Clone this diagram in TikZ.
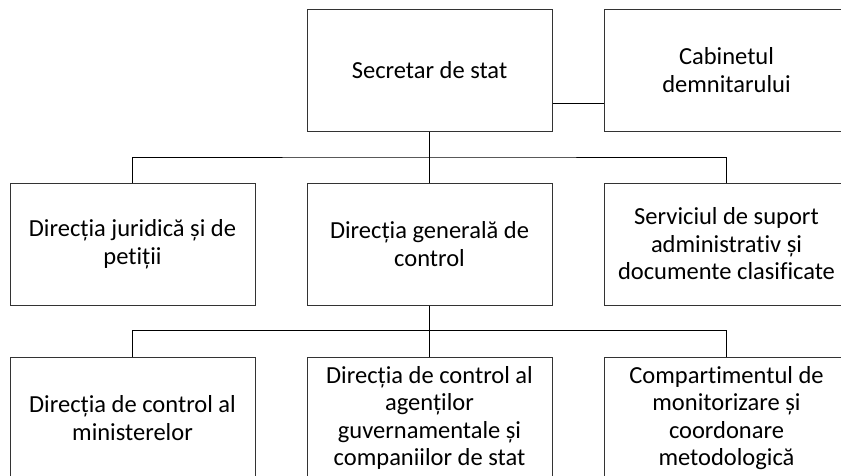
\documentclass[tikz,border=0pt]{standalone}
\usepackage{fontspec}
\setmainfont{Carlito}[Ligatures = NoCommon]
\usepackage{tikz}
\usetikzlibrary{positioning}

\begin{document}
\begin{tikzpicture}[x=1pt,y=-1pt]
		\tikzstyle{every node} = [font = \fontsize{24.5}{27.5}\selectfont]
		\tikzstyle{unit} = [draw = black!80, line width = 1pt, minimum width = 245pt, minimum height = 122pt, align = center, inner sep = 0pt]
		\tikzstyle{link} = [draw, line width = 1pt]
			\clip (0,0) rectangle (841,475);
			\node[unit] (secretar) at (429.5,70) {Secretar de stat};
			\node[unit, right = 51pt of secretar] (cabinet) {Cabinetul\\demnitarului};
			\node[unit] (generala) at (429.5,244) {Direcția generală de\\control};
			\node[unit, left = 51pt of generala] (juridica) {Direcția juridică și de\\petiții};
			\node[unit, right = 51pt of generala] (suport) {Serviciul de suport\\administrativ și\\documente clasificate};
			\node[unit] (agentii) at (429.5,418) {Direcția de control al\\agenților\\guvernamentale și\\companiilor de stat};
			\node[unit, left = 51pt of agentii] (ministere) {Direcția de control al\\ministerelor};
			\node[unit, right = 51pt of agentii] (metodologie) {Compartimentul de\\monitorizare și\\coordonare\\metodologică};
			\coordinate (bus1) at (429.5,157);
			\coordinate (bus2) at (429.5,330.5);
			\path[link] ([yshift=-33pt]secretar.east) -- ([yshift=-33pt]cabinet.west);
			\path[link, line width = 1.5pt] (secretar.south) -- (bus1) -- (generala.north);
			\path[link] (juridica.north) |- (bus1) -| (suport.north);
			\path[link, line width = 1.5pt] (generala.south) -- (bus2) -- (agentii.north);
			\path[link] (ministere.north) |- (bus2) -| (metodologie.north);
		\end{tikzpicture}
\end{document}
